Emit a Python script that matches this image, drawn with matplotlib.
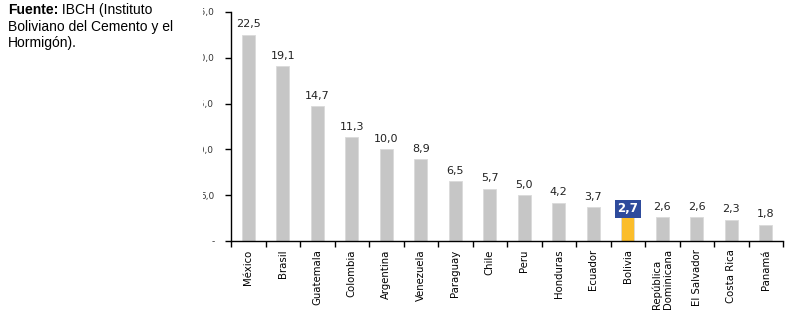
import matplotlib.pyplot as plt
import numpy as np
from matplotlib.transforms import Bbox

countries = ['México', 'Brasil', 'Guatemala', 'Colombia', 'Argentina', 'Venezuela',
             'Paraguay', 'Chile', 'Peru', 'Honduras', 'Ecuador', 'Bolivia',
             'República\nDominicana', 'El Salvador', 'Costa Rica', 'Panamá']
values = [22.5, 19.1, 14.7, 11.3, 10.0, 8.9, 6.5, 5.7, 5.0, 4.2, 3.7, 2.7, 2.6, 2.6, 2.3, 1.8]
highlight = 'Bolivia'
yticks = [0, 5, 10, 15, 20, 25]
ytick_labels = ['-', '5,0', '10,0', '15,0', '20,0', '25,0']

W, H = 788, 312
fig = plt.figure(figsize=(W / 100, H / 100), dpi=100)
ax = fig.add_axes([231 / W, (H - 241) / H, 552 / W, (241 - 12) / H])

x = np.arange(len(countries))
colors = ['#fbbd2a' if c == highlight else '#c6c6c6' for c in countries]
ax.bar(x, values, width=0.38, color=colors, edgecolor='#dadada', linewidth=0.6)

for xi, v, c in zip(x, values, countries):
    txt = f'{v:.1f}'.replace('.', ',')
    if c == highlight:
        ax.text(xi, v + 0.12, txt, ha='center', va='bottom', fontsize=8.5,
                fontweight='bold', color='white', family='DejaVu Sans',
                bbox=dict(boxstyle='square,pad=0.2', fc='#2e4b9c', ec='none'))
    else:
        ax.text(xi, v + 0.6, txt, ha='center', va='bottom', fontsize=8,
                color='#222222', family='DejaVu Sans')

ax.set_xlim(-0.5, len(countries) - 0.5)
ax.set_ylim(0, 25)
ax.set_yticks(yticks)
ax.set_yticklabels(ytick_labels, fontsize=6.5, color='#333333')
ax.set_xticks(x)
ax.set_xticklabels(countries, rotation=90, fontsize=7.3, va='top', ha='center',
                   linespacing=1.05, multialignment='left')
ax.set_xticks(np.arange(len(countries) + 1) - 0.5, minor=True)
ax.tick_params(axis='x', which='major', length=0, pad=6)
ax.tick_params(axis='x', which='minor', length=4, width=1, direction='out')
ax.tick_params(axis='y', length=4, width=1, direction='out', pad=8)
for s in ['top', 'right']:
    ax.spines[s].set_visible(False)
for s in ['left', 'bottom']:
    ax.spines[s].set_linewidth(1)

# y labels are partly hidden behind the source note in the original
clip = Bbox([[203, 0], [W, H]])
for lab in ax.get_yticklabels():
    lab.set_clip_box(clip)
    lab.set_clip_on(True)

fs = 10
t1 = fig.text(8 / W, 1 - 3 / H, 'Fuente:', fontweight='bold', fontsize=fs,
              family='Liberation Sans', va='top', ha='left')
ax.annotate(' IBCH (Instituto', xy=(1, 0), xycoords=t1, va='bottom', ha='left',
            fontsize=fs, family='Liberation Sans', annotation_clip=False)
fig.text(8 / W, 1 - 19.5 / H, 'Boliviano del Cemento y el', fontsize=fs,
         family='Liberation Sans', va='top', ha='left')
fig.text(8 / W, 1 - 36 / H, 'Hormigón).', fontsize=fs,
         family='Liberation Sans', va='top', ha='left')

fig.savefig('out.png', dpi=100)
